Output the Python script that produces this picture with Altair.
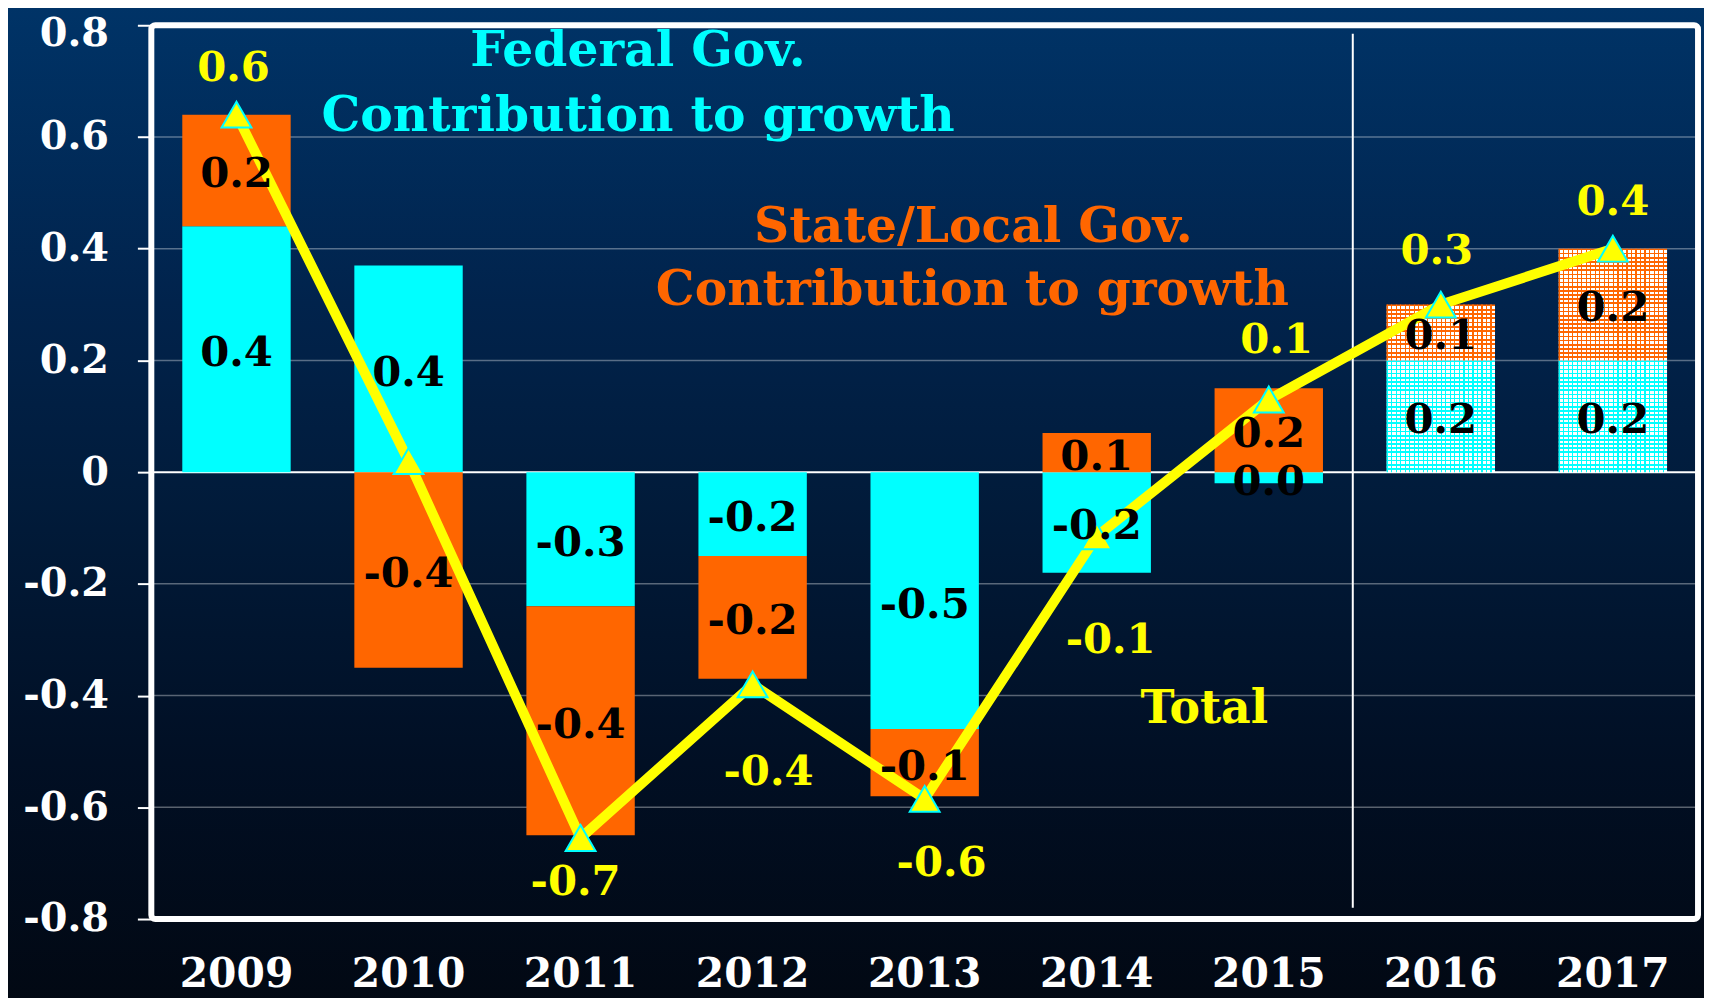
import altair as alt
import pandas as pd

# ---------------- data ----------------
years = ["2009", "2010", "2011", "2012", "2013", "2014", "2015", "2016", "2017"]
federal = [0.44, 0.37, -0.24, -0.15, -0.46, -0.18, -0.02, 0.20, 0.20]
state = [0.20, -0.35, -0.41, -0.22, -0.12, 0.07, 0.15, 0.10, 0.20]
total = [0.64, 0.02, -0.655, -0.38, -0.585, -0.115, 0.13, 0.30, 0.40]

federal_labels = ["0.4", "0.4", "-0.3", "-0.2", "-0.5", "-0.2", "0.0", "0.2", "0.2"]
state_labels = ["0.2", "-0.4", "-0.4", "-0.2", "-0.1", "0.1", "0.2", "0.1", "0.2"]
total_labels = ["0.6", "", "-0.7", "-0.4", "-0.6", "-0.1", "0.1", "0.3", "0.4"]
total_label_y = [0.724, None, -0.734, -0.536, -0.70, -0.30, 0.237, 0.396, 0.484]
total_label_dx = [-3, 0, -5, 16, 17, 14, 8, -4, 0]

forecast_years = ["2016", "2017"]
y_ticks = [-0.8, -0.6, -0.4, -0.2, 0, 0.2, 0.4, 0.6, 0.8]

# ---------------- style ----------------
W, H = 1554, 898
FONT = "DejaVu Serif"
CYAN = "#00FFFF"
ORANGE = "#FF6600"
YELLOW = "#FFFF00"
PAD_INNER, PAD_OUTER = 0.37, 0.18

xscale = alt.Scale(domain=years, paddingInner=PAD_INNER, paddingOuter=PAD_OUTER)
yscale = alt.Scale(domain=[-0.8, 0.8], nice=False, zero=False)

xaxis = alt.Axis(labelFontSize=41, labelFont=FONT, labelFontWeight="bold",
                 labelColor="white", ticks=False, tickSize=0, domain=False,
                 labelPadding=36, labelAngle=0, zindex=1, title=None)
yaxis = alt.Axis(values=y_ticks, grid=False, domain=False, tickColor="white",
                 tickWidth=2, tickSize=14, labelPadding=29, labelFontSize=40,
                 labelFont=FONT, labelFontWeight="bold", labelColor="white",
                 labelOffset={"condition": {"test": "datum.value >= 0.79", "value": 8}, "value": 0},
                 labelExpr="datum.value == 0 ? '0' : replace(format(datum.value, '.1f'), '\u2212', '-')",
                 zindex=1, title=None)


def XF(**kw):
    return alt.X("year:N", scale=xscale, sort=years, title=None, axis=xaxis, **kw)


def YF(field):
    return alt.Y(field, scale=yscale, title=None, axis=yaxis)


# segment table
rows = []
for yr, f, s, fl, sl in zip(years, federal, state, federal_labels, state_labels):
    f0, f1 = 0.0, f
    if (s >= 0) == (f >= 0):
        s0, s1 = f, f + s
    else:
        s0, s1 = 0.0, s
    rows.append(dict(year=yr, part="Federal", y0=f0, y1=f1, mid=(f0 + f1) / 2, label=fl,
                     forecast=yr in forecast_years))
    rows.append(dict(year=yr, part="State", y0=s0, y1=s1, mid=(s0 + s1) / 2, label=sl,
                     forecast=yr in forecast_years))
seg = pd.DataFrame(rows)
tot = pd.DataFrame(dict(year=years, total=total))

one = pd.DataFrame({"a": [0]})

# background gradient covering whole chart
bg = alt.Chart(one).mark_rect(
    fill=alt.LinearGradient(gradient="linear", x1=0, x2=0, y1=0, y2=1, stops=[
        alt.GradientStop(color="#003468", offset=0),
        alt.GradientStop(color="#01234c", offset=0.3),
        alt.GradientStop(color="#011b3a", offset=0.5),
        alt.GradientStop(color="#010f24", offset=0.75),
        alt.GradientStop(color="#020812", offset=1)])
).encode(x=alt.value(-160), x2=alt.value(W + 20), y=alt.value(-30), y2=alt.value(H + 100))

grid = alt.Chart(pd.DataFrame({"v": [t for t in y_ticks if t not in (0, 0.8, -0.8)]})).mark_rule(
    color="white", opacity=0.35, strokeWidth=1.5).encode(y=YF("v:Q"))

zero = alt.Chart(pd.DataFrame({"v": [0]})).mark_rule(color="white", strokeWidth=2).encode(y=YF("v:Q"))

solid = seg[~seg["forecast"]]
bars = alt.Chart(solid).mark_bar().encode(
    x=XF(), y=YF("y0:Q"), y2="y1:Q",
    color=alt.Color("part:N", scale=alt.Scale(domain=["Federal", "State"], range=[CYAN, ORANGE]),
                    legend=None))

# patterned (forecast) bars built with striped gradients
step = W / (len(years) - PAD_INNER + 2 * PAD_OUTER)
bw = step * (1 - PAD_INNER)


def pattern_layers(r):
    base = CYAN if r["part"] == "Federal" else ORANGE
    h_px = abs(r["y1"] - r["y0"]) * H / 1.6
    nrows = max(1, round(h_px / 4.2))
    hs = []
    for k in range(nrows):
        a, b, c = k / nrows, (k + 0.4) / nrows, (k + 1) / nrows
        hs += [alt.GradientStop(color=base, offset=a), alt.GradientStop(color=base, offset=b),
               alt.GradientStop(color="#ffffff", offset=b), alt.GradientStop(color="#ffffff", offset=c)]
    ncols = max(1, round(bw / 4.5))
    vs = []
    for k in range(ncols):
        a, b, c = k / ncols, (k + 0.25) / ncols, (k + 1) / ncols
        vs += [alt.GradientStop(color=base, offset=a), alt.GradientStop(color=base, offset=b),
               alt.GradientStop(color="rgba(0,0,0,0)", offset=b),
               alt.GradientStop(color="rgba(0,0,0,0)", offset=c)]
    d = pd.DataFrame([r])
    l1 = alt.Chart(d).mark_bar(fill=alt.LinearGradient(gradient="linear", x1=0, x2=0, y1=0, y2=1, stops=hs)
                               ).encode(x=XF(), y=YF("y0:Q"), y2="y1:Q")
    l2 = alt.Chart(d).mark_bar(fill=alt.LinearGradient(gradient="linear", x1=0, x2=1, y1=0, y2=0, stops=vs)
                               ).encode(x=XF(), y=YF("y0:Q"), y2="y1:Q")
    return [l1, l2]


patterned = []
for _, r in seg[seg["forecast"]].iterrows():
    patterned += pattern_layers(r.to_dict())

divider = alt.Chart(pd.DataFrame({"year": [forecast_years[0]], "top": [0.785], "bot": [-0.78]})).mark_rule(
    color="white", strokeWidth=2, xOffset=-34).encode(
    x=XF(bandPosition=0), y=YF("top:Q"), y2="bot:Q")

frame = alt.Chart(one).mark_rect(fillOpacity=0, stroke="white", strokeWidth=6, cornerRadius=4).encode(
    x=alt.value(0), x2=alt.value("width"), y=alt.value(0), y2=alt.value("height"))

line = alt.Chart(tot).mark_line(color=YELLOW, strokeWidth=10).encode(x=XF(), y=YF("total:Q"))
pts = alt.Chart(tot).mark_point(shape="triangle-up", size=900, filled=True, fill=YELLOW,
                                stroke=CYAN, strokeWidth=2, opacity=1).encode(x=XF(), y=YF("total:Q"))

seg_text = alt.Chart(seg).mark_text(font=FONT, fontWeight="bold", fontSize=42, color="black",
                                    baseline="middle", dy=4).encode(
    x=XF(), y=YF("mid:Q"), text="label:N")

tot_text = []
for yr, lab, ly, dx in zip(years, total_labels, total_label_y, total_label_dx):
    if not lab:
        continue
    tot_text.append(alt.Chart(pd.DataFrame({"year": [yr], "ly": [ly], "t": [lab]})).mark_text(
        font=FONT, fontWeight="bold", fontSize=42, color=YELLOW, baseline="middle", dx=dx).encode(
        x=XF(), y=YF("ly:Q"), text="t:N"))


def note(txt, px, py, col, size=49):
    return alt.Chart(one).mark_text(text=txt, font=FONT, fontWeight="bold", fontSize=size, color=col,
                                    baseline="middle", align="center").encode(
        x=alt.value(px), y=alt.value(py))


notes = [
    note("Federal Gov.", 489, 26, CYAN),
    note("Contribution to growth", 489, 91, CYAN),
    note("State/Local Gov.", 826, 203, ORANGE),
    note("Contribution to growth", 825, 266, ORANGE),
    note("Total", 1058, 687, YELLOW, 46),
]

chart = alt.layer(bg, grid, zero, bars, *patterned, divider, frame, line, pts, seg_text, *tot_text,
                  *notes).properties(
    width=W, height=H,
    autosize=alt.AutoSizeParams(type="none"),
    padding={"left": 144, "top": 15, "right": 6, "bottom": 77},
    background="#020812",
).configure_view(strokeWidth=0).configure(font=FONT)

chart.save("out.html", embed_options={"renderer": "svg", "actions": False})
